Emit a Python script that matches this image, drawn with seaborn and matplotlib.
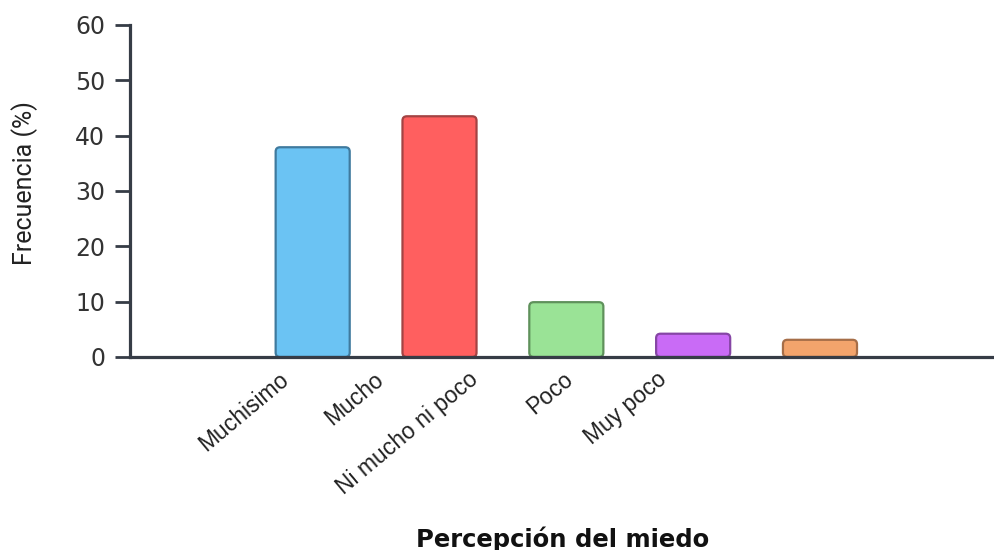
import numpy as np
import pandas as pd
import matplotlib
matplotlib.use("Agg")
import matplotlib.pyplot as plt
import seaborn as sns
from matplotlib.patches import FancyBboxPatch

sns.set_style("white")

# data
categorias = ["Muchisimo", "Mucho", "Ni mucho ni poco", "Poco", "Muy poco"]
frecuencia = [37.9, 43.5, 9.9, 4.2, 3.1]
colores = ["#6BC3F3", "#FF5F5F", "#9AE396", "#C96BF6", "#F3A46C"]
bordes = ["#3F7A9E", "#A34343", "#5F915B", "#8646A5", "#A66E48"]
yticks = [0, 10, 20, 30, 40, 50, 60]

df = pd.DataFrame({"cat": categorias, "val": frecuencia})

fig = plt.figure(figsize=(9.95, 5.5), dpi=100)
ax = fig.add_axes([0.1307, 0.351, 0.8693, 0.6036])

sns.barplot(data=df, x="cat", y="val", hue="cat", order=categorias,
            palette=colores, saturation=1, legend=False, width=0.584, ax=ax)

# swap plain rectangles for rounded ones
ax.set_xlim(-1.44, 5.38)
ax.set_ylim(0, 60)
bars = list(ax.patches)
for p, ec in zip(bars, bordes):
    fc = p.get_facecolor()
    x, y, w, h = p.get_x(), p.get_y(), p.get_width(), p.get_height()
    p.remove()
    rb = FancyBboxPatch((x, y), w, h,
                        boxstyle="round,pad=0,rounding_size=0.035",
                        mutation_aspect=22.5, facecolor=fc, edgecolor=ec,
                        linewidth=1.6, zorder=2)
    ax.add_patch(rb)

# spines
for s in ["top", "right"]:
    ax.spines[s].set_visible(False)
for s in ["left", "bottom"]:
    ax.spines[s].set_color("#363C46")
    ax.spines[s].set_linewidth(2.3)
    ax.spines[s].set_zorder(3)

ax.set_yticks(yticks)
ax.set_yticklabels([str(v) for v in yticks], fontsize=17, color="#333333",
                   family="DejaVu Sans")
ax.tick_params(axis="y", length=11, width=2.0, color="#363C46", pad=7,
               left=True)

# x labels sit shifted from the bars in the original
label_pos = np.arange(len(categorias)) * 0.745 - 0.21
ax.set_xticks(label_pos)
ax.set_xticklabels(categorias, rotation=40, ha="right", va="center",
                   rotation_mode="anchor", fontsize=16.5, color="#222222",
                   family="Liberation Sans")
ax.tick_params(axis="x", length=0, pad=14)

ax.set_xlabel("Percepción del miedo", fontsize=17.5, fontweight="bold",
              color="#111111", family="DejaVu Sans")
ax.xaxis.set_label_coords(0.5, -0.51)
ax.set_ylabel("Frecuencia (%)", fontsize=18, color="#222222",
              family="Roboto")
ax.yaxis.set_label_coords(-0.106, 0.524)

fig.savefig("out.png", dpi=100)
